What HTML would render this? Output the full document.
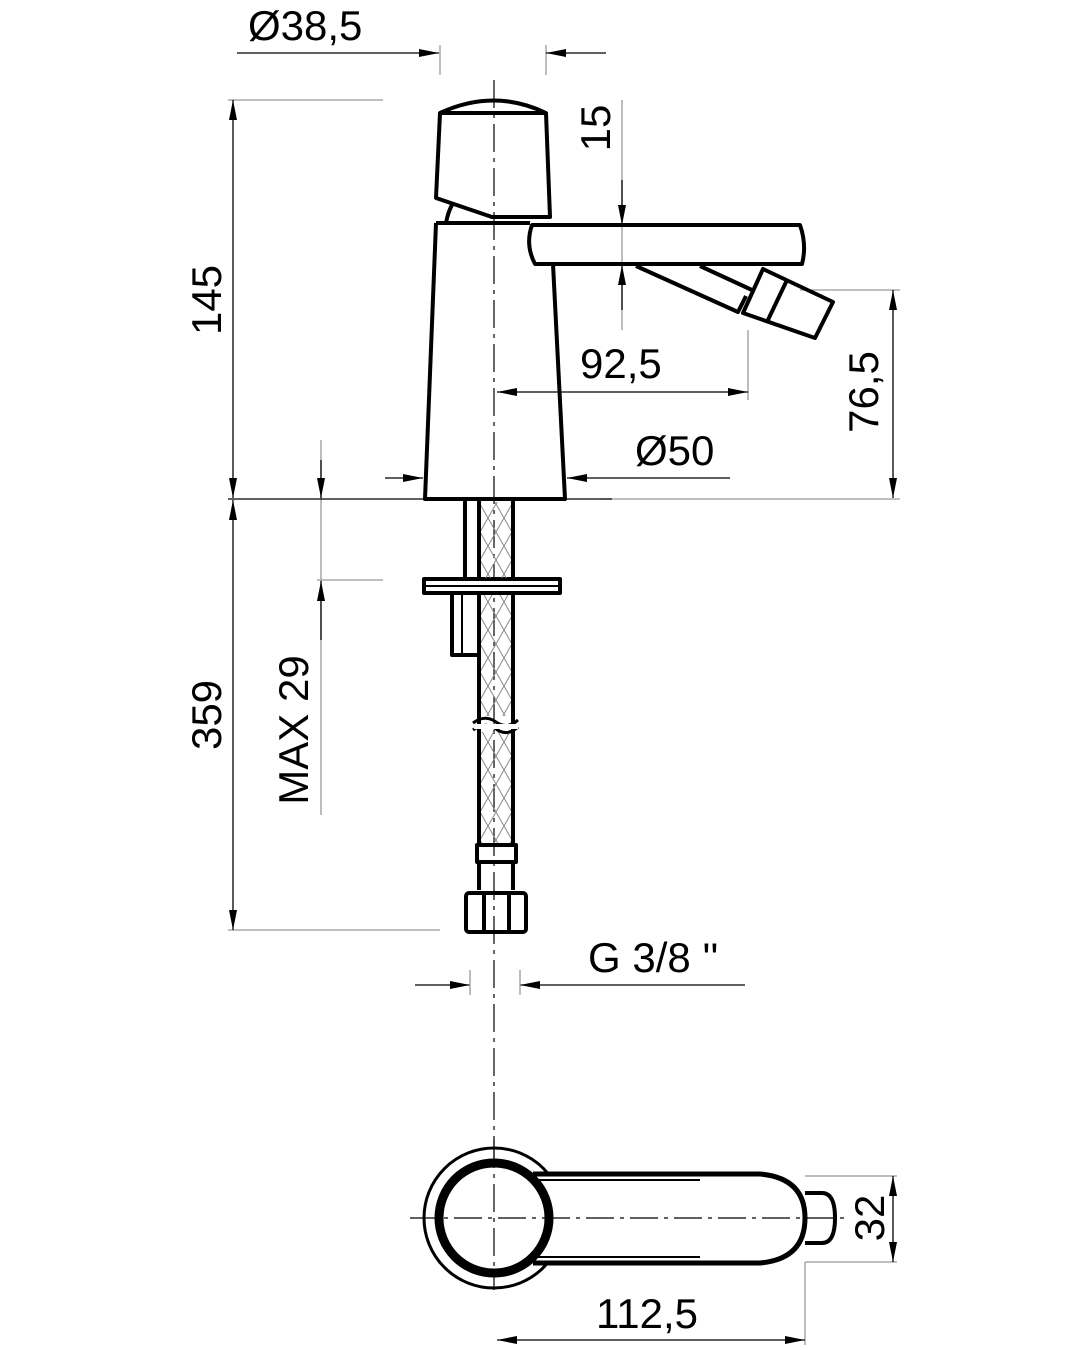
<!DOCTYPE html>
<html><head><meta charset="utf-8"><style>
html,body{margin:0;padding:0;background:#fff}
svg{display:block}
text{font-family:"Liberation Sans",sans-serif;fill:#000;font-size:42px}
</style></head><body>
<svg width="1080" height="1350" viewBox="0 0 1080 1350" xmlns="http://www.w3.org/2000/svg">
<defs>
<pattern id="hatch" width="16" height="28" patternUnits="userSpaceOnUse">
<path d="M0 0 L16 28 M16 0 L0 28" stroke="#888" stroke-width="1" fill="none"/>
</pattern>
<marker id="a" viewBox="0 0 20 8" refX="20" refY="4" markerWidth="20" markerHeight="8" markerUnits="userSpaceOnUse" orient="auto-start-reverse"><path d="M0 0 L20 4 L0 8z" fill="#000"/></marker>
</defs>
<g stroke="#000" stroke-width="1.2" stroke-dasharray="28 6 4 6" fill="none">
<line x1="494" y1="80" x2="494" y2="1182"/>
</g>
<g stroke="#999" stroke-width="1.3" fill="none">
<line x1="440" y1="45" x2="440" y2="75"/><line x1="546" y1="45" x2="546" y2="75"/>
<line x1="228" y1="100" x2="383" y2="100"/>
<line x1="622" y1="100" x2="622" y2="330"/>
<line x1="748" y1="330" x2="748" y2="400"/>
<line x1="800" y1="290" x2="900" y2="290"/>
<line x1="600" y1="499" x2="900" y2="499"/>
<line x1="317" y1="580" x2="383" y2="580"/>
<line x1="321" y1="440" x2="321" y2="815"/>
<line x1="228" y1="930" x2="440" y2="930"/>
<line x1="805" y1="1176" x2="897" y2="1176"/>
<line x1="805" y1="1262" x2="805" y2="1345"/>
<line x1="805" y1="1262" x2="897" y2="1262"/>
</g>
<g stroke="#000" stroke-width="1.3" fill="none">
<line x1="237" y1="53" x2="439" y2="53" marker-end="url(#a)"/>
<line x1="606" y1="53" x2="546" y2="53" marker-end="url(#a)"/>
<line x1="233" y1="300" x2="233" y2="100" marker-end="url(#a)"/>
<line x1="233" y1="300" x2="233" y2="498" marker-end="url(#a)"/>
<line x1="228" y1="499" x2="612" y2="499"/>
<line x1="233" y1="700" x2="233" y2="500" marker-end="url(#a)"/>
<line x1="233" y1="700" x2="233" y2="930" marker-end="url(#a)"/>
<line x1="622" y1="180" x2="622" y2="225" marker-end="url(#a)"/>
<line x1="622" y1="310" x2="622" y2="265" marker-end="url(#a)"/>
<line x1="620" y1="392" x2="497" y2="392" marker-end="url(#a)"/>
<line x1="620" y1="392" x2="748" y2="392" marker-end="url(#a)"/>
<line x1="893" y1="390" x2="893" y2="290" marker-end="url(#a)"/>
<line x1="893" y1="390" x2="893" y2="498" marker-end="url(#a)"/>
<line x1="385" y1="478" x2="423" y2="478" marker-end="url(#a)"/>
<line x1="730" y1="478" x2="567" y2="478" marker-end="url(#a)"/>
<line x1="321" y1="460" x2="321" y2="498" marker-end="url(#a)"/>
<line x1="321" y1="640" x2="321" y2="581" marker-end="url(#a)"/>
<line x1="415" y1="985" x2="470" y2="985" marker-end="url(#a)"/>
<line x1="745" y1="985" x2="520" y2="985" marker-end="url(#a)"/>
<line x1="470" y1="970" x2="470" y2="995" stroke="#999"/>
<line x1="520" y1="970" x2="520" y2="995" stroke="#999"/>
<line x1="893" y1="1218" x2="893" y2="1176" marker-end="url(#a)"/>
<line x1="893" y1="1218" x2="893" y2="1262" marker-end="url(#a)"/>
<line x1="650" y1="1340" x2="497" y2="1340" marker-end="url(#a)"/>
<line x1="650" y1="1340" x2="805" y2="1340" marker-end="url(#a)"/>
</g>
<g stroke="#000" stroke-width="4" fill="none" stroke-linejoin="round">
<path d="M440 113 Q494 88 546 113 Z"/>
<path d="M440 113 L436 198 L492 217 L550 217 L546 113"/>
<path d="M446 223 Q448 212 452 205"/>
<path d="M436 223 L530 223"/>
<path d="M436 223 L425 499 L565 499 L553 264"/>
<path d="M532 225 L800 225 Q807 245 802 264 L535 264 Q525 245 532 225 Z"/>
<path d="M636 266 L738 312 L746 296"/>
<path d="M700 266 L752 290"/>
<path d="M763 269 L833 302 L815 338 L743 313 Z"/>
<line x1="787" y1="280" x2="767" y2="322"/>
<line x1="465" y1="500" x2="465" y2="579"/>
<line x1="479" y1="500" x2="479" y2="843"/>
<line x1="513" y1="500" x2="513" y2="843"/>
<rect x="424" y="579" width="136" height="14" fill="#fff"/>
<line x1="424" y1="586" x2="560" y2="586" stroke-width="2"/>
<path d="M479 593 L479 655 L452 655 L452 593"/>
<line x1="462" y1="593" x2="462" y2="655" stroke-width="2"/>
<rect x="477" y="845" width="39" height="17"/>
<path d="M479 862 L479 890 M513 862 L513 890"/>
<rect x="466" y="893" width="60" height="39" rx="3"/>
<line x1="484" y1="893" x2="484" y2="932"/>
<line x1="509" y1="893" x2="509" y2="932"/>
</g>
<rect x="481" y="502" width="30" height="76" fill="url(#hatch)"/>
<rect x="481" y="595" width="30" height="121" fill="url(#hatch)"/>
<rect x="481" y="732" width="30" height="111" fill="url(#hatch)"/>
<path d="M473 723 Q485 714 496 722 Q507 730 518 720 M473 730 Q485 721 496 729 Q507 737 518 727" stroke="#000" stroke-width="3" fill="none"/>
<rect x="474" y="724" width="44" height="5" fill="#fff"/>
<g stroke="#000" fill="none">
<circle cx="494" cy="1218" r="70" stroke-width="3"/>
<path d="M805 1193 L822 1193 Q835 1193 835 1218 Q835 1243 822 1243 L805 1243" stroke-width="4"/>
<path d="M533 1174 L760 1174 Q805 1178 805 1218 Q805 1259 760 1263 L533 1263" fill="#fff" stroke-width="5"/>
<path d="M537 1180 L700 1180 M537 1257 L700 1257" stroke-width="2"/>
<circle cx="494" cy="1218" r="55" stroke-width="9" fill="#fff"/>
<line x1="494" y1="1140" x2="494" y2="1290" stroke-width="1.2" stroke-dasharray="28 6 4 6"/>
<line x1="410" y1="1218" x2="850" y2="1218" stroke-width="1.2" stroke-dasharray="28 6 4 6"/>
</g>
<text x="248" y="40">Ø38,5</text>
<text x="580" y="378">92,5</text>
<text x="635" y="465">Ø50</text>
<text x="588" y="972">G 3/8 ''</text>
<text x="596" y="1328">112,5</text>
<text transform="translate(221,300) rotate(-90)" text-anchor="middle">145</text>
<text transform="translate(221,715) rotate(-90)" text-anchor="middle">359</text>
<text transform="translate(610,128) rotate(-90)" text-anchor="middle">15</text>
<text transform="translate(878,392) rotate(-90)" text-anchor="middle">76,5</text>
<text transform="translate(308,730) rotate(-90)" text-anchor="middle">MAX 29</text>
<text transform="translate(884,1218) rotate(-90)" text-anchor="middle">32</text>
</svg>
</body></html>
